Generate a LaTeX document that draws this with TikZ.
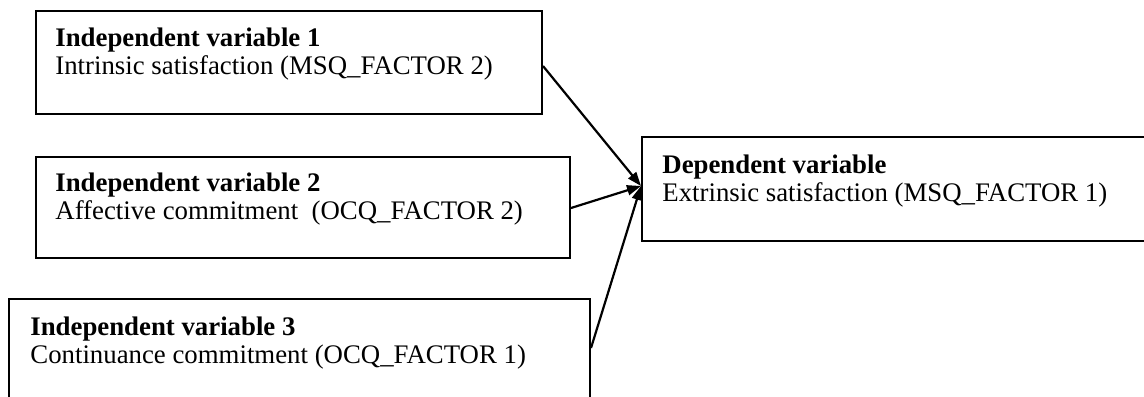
\documentclass[tikz,border=0pt]{standalone}
\usepackage{fontspec}
\setmainfont{Liberation Serif}
\usetikzlibrary{arrows.meta}
\begin{document}
\begin{tikzpicture}[x=0.5pt,y=-0.5pt,
  box/.style={draw,line width=1pt,rectangle,inner sep=0pt,anchor=north west},
  boxtext/.style={anchor=north west,inner sep=0pt,align=left,
    font=\fontsize{13.4}{14}\selectfont},
  link/.style={line width=1.1pt,-{Triangle[length=7pt,width=5pt]}}]
\useasboundingbox (0,0) rectangle (1144,396);
\clip (0,0) rectangle (1144,396);

% boxes
\node[box,minimum width=253pt,minimum height=51.5pt] (b1) at (35,10) {};
\node[box,minimum width=267pt,minimum height=50.5pt] (b2) at (35,156) {};
\node[box,minimum width=290.75pt,minimum height=56pt] (b3) at (7.5,298) {};
\node[box,minimum width=254.5pt,minimum height=52pt] (b4) at (641,136) {};

% box texts
\node[boxtext] (t1) at (55,27.5) {\textbf{Independent variable 1}\\Intrinsic satisfaction (MSQ\_FACTOR 2)};
\node[boxtext] (t2) at (55,173) {\textbf{Independent variable 2}\\Affective commitment\ \ (OCQ\_FACTOR 2)};
\node[boxtext] (t3) at (30,316) {\textbf{Independent variable 3}\\Continuance commitment (OCQ\_FACTOR 1)};
\node[boxtext] (t4) at (662,155) {\textbf{Dependent variable}\\Extrinsic satisfaction (MSQ\_FACTOR 1)};

% connectors
\draw[link] ([yshift=-28pt]b1.north east) -- ([yshift=-25pt]b4.north west);
\draw[link] ([yshift=-26pt]b2.north east) -- ([yshift=-25pt]b4.north west);
\draw[link] ([yshift=-25pt]b3.north east) -- ([yshift=-25pt]b4.north west);
\end{tikzpicture}
\end{document}
